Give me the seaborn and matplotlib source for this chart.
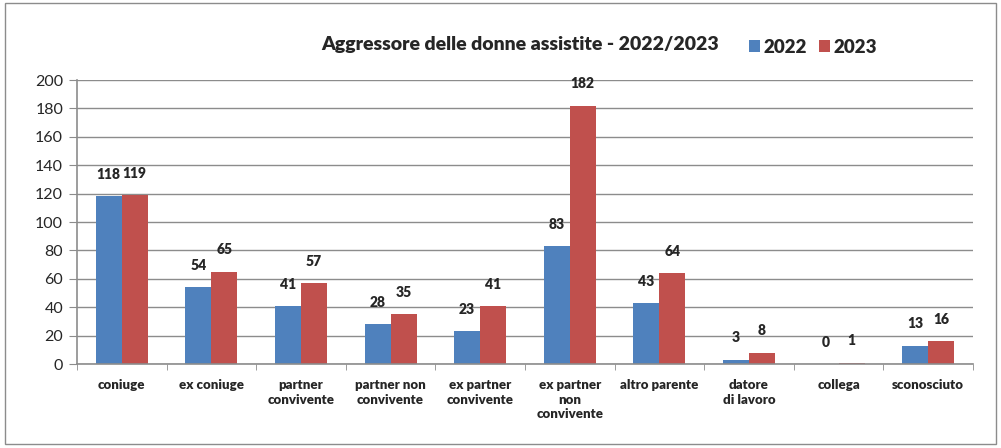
import matplotlib
matplotlib.use("Agg")
import matplotlib.pyplot as plt
from matplotlib.patches import Rectangle
import seaborn as sns
import pandas as pd
import numpy as np

categories = ["coniuge", "ex coniuge", "partner\nconvivente", "partner non\nconvivente",
              "ex partner\nconvivente", "ex partner\nnon\nconvivente", "altro parente",
              "datore\ndi lavoro", "collega", "sconosciuto"]
values_2022 = [118, 54, 41, 28, 23, 83, 43, 3, 0, 13]
values_2023 = [119, 65, 57, 35, 41, 182, 64, 8, 1, 16]
years = ["2022", "2023"]
colors = ["#4F81BD", "#C0504D"]

df = pd.DataFrame({
    "categoria": categories * 2,
    "anno": [years[0]] * len(categories) + [years[1]] * len(categories),
    "valore": values_2022 + values_2023,
})

sns.set_style("white")
plt.rcParams["font.family"] = ["Lato", "DejaVu Sans"]
bold = "heavy"

fig = plt.figure(figsize=(10.01, 4.48), dpi=100)
ax = fig.add_axes([0.0769, 0.1875, 0.8951, 0.6339])

sns.barplot(data=df, x="categoria", y="valore", hue="anno", order=categories,
            hue_order=years, palette=colors, width=0.58, saturation=1,
            edgecolor="none", ax=ax, legend=False)

ax.set_ylim(0, 200)
ax.set_xlim(-0.5, len(categories) - 0.5)
ax.set_yticks(np.arange(0, 201, 20))
ax.yaxis.grid(True, color="#8c8c8c", linewidth=1)
ax.set_axisbelow(True)
ax.set_xlabel("")
ax.set_ylabel("")
for s in ["top", "right"]:
    ax.spines[s].set_visible(False)
for s in ["left", "bottom"]:
    ax.spines[s].set_color("#8c8c8c")
    ax.spines[s].set_linewidth(1.2)

ax.tick_params(axis="y", which="major", direction="out", length=6, color="#8c8c8c",
               labelsize=11.5, pad=4, left=True)
ax.set_xticks(np.arange(len(categories)))
ax.set_xticklabels(categories, fontsize=9.5, fontweight=bold, linespacing=1.25,
                   va="top")
ax.tick_params(axis="x", which="major", length=0, pad=11)
ax.set_xticks(np.arange(-0.5, len(categories), 1), minor=True)
ax.tick_params(axis="x", which="minor", direction="out", length=4, color="#8c8c8c",
               bottom=True)

for cont in ax.containers:
    ax.bar_label(cont, padding=11, fontsize=10, fontweight=bold)

fig.text(0.52, 0.9, "Aggressore delle donne assistite - 2022/2023", ha="center",
         va="center", fontsize=14, fontweight=bold)

# legend
lx = [0.748, 0.818]
for x0, c, lab in zip(lx, colors, years):
    fig.patches.append(Rectangle((x0, 0.883), 0.011, 0.027, transform=fig.transFigure,
                                 facecolor=c, edgecolor="none"))
    fig.text(x0 + 0.015, 0.895, lab, ha="left", va="center", fontsize=13.5,
             fontweight=bold)

fig.patches.append(Rectangle((0.005, 0.008), 0.99, 0.985, transform=fig.transFigure,
                             facecolor="none", edgecolor="#8c8c8c", linewidth=1))

fig.savefig("out.png", dpi=100)
